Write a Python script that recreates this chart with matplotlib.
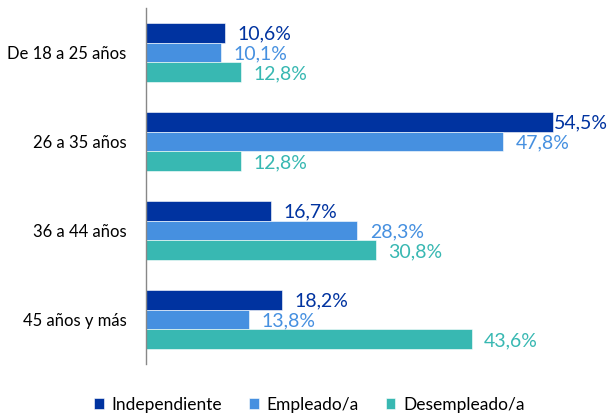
import matplotlib
matplotlib.use("Agg")
import matplotlib.pyplot as plt
import numpy as np

categories = ["De 18 a 25 años", "26 a 35 años", "36 a 44 años", "45 años y más"]
series_names = ["Independiente", "Empleado/a", "Desempleado/a"]
independiente = [10.6, 54.5, 16.7, 18.2]
empleado = [10.1, 47.8, 28.3, 13.8]
desempleado = [12.8, 12.8, 30.8, 43.6]
colors = ["#0033A0", "#4690E0", "#38B8B2"]

plt.rcParams['font.family'] = ['Lato', 'DejaVu Sans']

fig = plt.figure(figsize=(6.1, 4.15), dpi=100)
ax = fig.add_axes([0.239, 0.1229, 0.735, 0.858])

y = np.arange(len(categories))
h = 0.222
series = [independiente, empleado, desempleado]
offsets = [-h, 0, h]
texts = []
for s, vals, off, c in zip(series_names, series, offsets, colors):
    ax.barh(y + off, vals, height=h, color=c, label=s, edgecolor="white", linewidth=0.4)
    for yi, v in zip(y, vals):
        t = ax.annotate(f"{v:.1f}%".replace(".", ","), xy=(v, yi + off), xytext=(9, -1),
                        textcoords="offset points", va="center", ha="left",
                        color=c, fontsize=14)
        texts.append(t)

ax.set_xlim(0, 60)
ax.set_ylim(3.5, -0.5)
ax.set_yticks(y)
ax.set_yticklabels(categories, fontsize=12)
ax.tick_params(axis='y', length=0, pad=14)
ax.set_xticks([])
for sp in ["top", "right", "bottom"]:
    ax.spines[sp].set_visible(False)
ax.spines["left"].set_color("#888888")
ax.spines["left"].set_linewidth(1)

# keep labels inside figure
fig.canvas.draw()
r = fig.canvas.get_renderer()
W = fig.bbox.width
for t in texts:
    bb = t.get_window_extent(r)
    if bb.x1 > W - 2:
        shift = bb.x1 - (W - 2)
        t.set_position((9 - shift * 72 / fig.dpi, -1))

leg = fig.legend(loc="lower center", bbox_to_anchor=(0.507, -0.032), ncol=3, frameon=False,
                 fontsize=12.5, handlelength=0.55, handleheight=0.55, handletextpad=0.45,
                 columnspacing=1.55)
fig.savefig("out.png", dpi=100)
